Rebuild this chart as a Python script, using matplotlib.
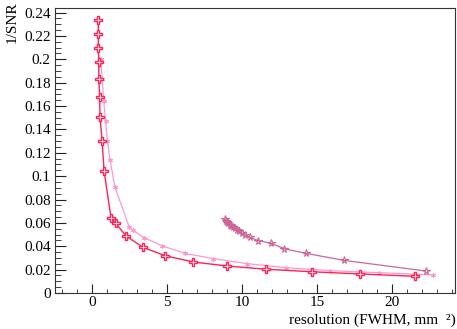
import numpy as np
import matplotlib
matplotlib.use('Agg')
import matplotlib.pyplot as plt
from matplotlib.ticker import MultipleLocator

# red series: open crosses
red_x = [0.42, 0.42, 0.42, 0.45, 0.45, 0.51, 0.53, 0.67, 0.80, 1.27, 1.58, 2.27, 3.40,
         4.87, 6.76, 9.02, 11.62, 14.64, 17.87, 21.53]
red_y = [0.2336, 0.2216, 0.2099, 0.1974, 0.1831, 0.1677, 0.1503, 0.1303, 0.1047, 0.0639,
         0.0596, 0.0488, 0.0391, 0.0319, 0.0265, 0.0231, 0.0203, 0.0182, 0.0163, 0.0143]

# light pink series: asterisks
pink_x = [0.58, 0.68, 0.78, 0.90, 1.03, 1.20, 1.53, 2.47, 2.71, 3.47, 4.64, 6.20, 8.09,
          10.36, 12.93, 15.87, 19.13, 22.76]
pink_y = [0.2000, 0.1830, 0.1640, 0.1470, 0.1300, 0.1138, 0.0904, 0.0568, 0.0536, 0.0474,
          0.0405, 0.0339, 0.0294, 0.0251, 0.0217, 0.0191, 0.0174, 0.0154]

# mauve series: open stars
mauve_x = [8.85, 8.92, 9.00, 9.08, 9.17, 9.27, 9.38, 9.50, 9.64, 9.80, 9.98, 10.20, 10.53,
           11.09, 11.93, 12.82, 14.27, 16.82, 22.24]
mauve_y = [0.0632, 0.0620, 0.0608, 0.0597, 0.0586, 0.0575, 0.0564, 0.0553, 0.0541, 0.0528,
           0.0513, 0.0497, 0.0476, 0.0448, 0.0425, 0.0379, 0.0339, 0.0279, 0.0188]

plt.rcParams['font.family'] = ['Liberation Serif', 'DejaVu Serif']
plt.rcParams['font.size'] = 10

fig = plt.figure(figsize=(4.57, 3.29), dpi=100)
ax = fig.add_axes([55 / 457, 36 / 329, 400 / 457, 285 / 329])

ax.plot(pink_x, pink_y, color='#ff99cc', lw=0.9, marker=(6, 2, 0), ms=3.5, mew=0.8)
ax.plot(mauve_x, mauve_y, color='#cc6699', lw=0.9, marker='*', ms=5.5, mew=0.8,
        fillstyle='none')
ax.plot(red_x, red_y, color='#ff2255', lw=1.0, marker='P', ms=6, mew=1.0,
        markerfacecolor='white')

ax.set_xlim(-2.47, 24.2)
ax.set_ylim(0, 0.2439)
ax.xaxis.set_major_locator(MultipleLocator(5))
ax.xaxis.set_minor_locator(MultipleLocator(1))
ax.yaxis.set_major_locator(MultipleLocator(0.02))
ax.yaxis.set_minor_locator(MultipleLocator(0.005))
ax.yaxis.set_major_formatter(plt.FuncFormatter(lambda v, p: ('%.2f' % v).rstrip('0').rstrip('.') if v else '0'))
ax.tick_params(axis='both', which='both', direction='in', top=False, right=False,
               colors='#222222', labelcolor='black', labelsize=11)
ax.tick_params(axis='y', which='major', length=8, pad=3)
ax.tick_params(axis='y', which='minor', length=4)
ax.tick_params(axis='x', which='major', length=6.5, pad=2)
ax.tick_params(axis='x', which='minor', length=3.2)
for s in ax.spines.values():
    s.set_color('#333333')

fig.text(0.027, 0.995, '1/SNR', rotation=90, ha='center', va='top', fontsize=11)
fig.text(0.998, 1 - 320 / 329, 'resolution (FWHM, mm  ²)', ha='right', va='center',
         fontsize=11)

plt.savefig('out.png', dpi=100)
